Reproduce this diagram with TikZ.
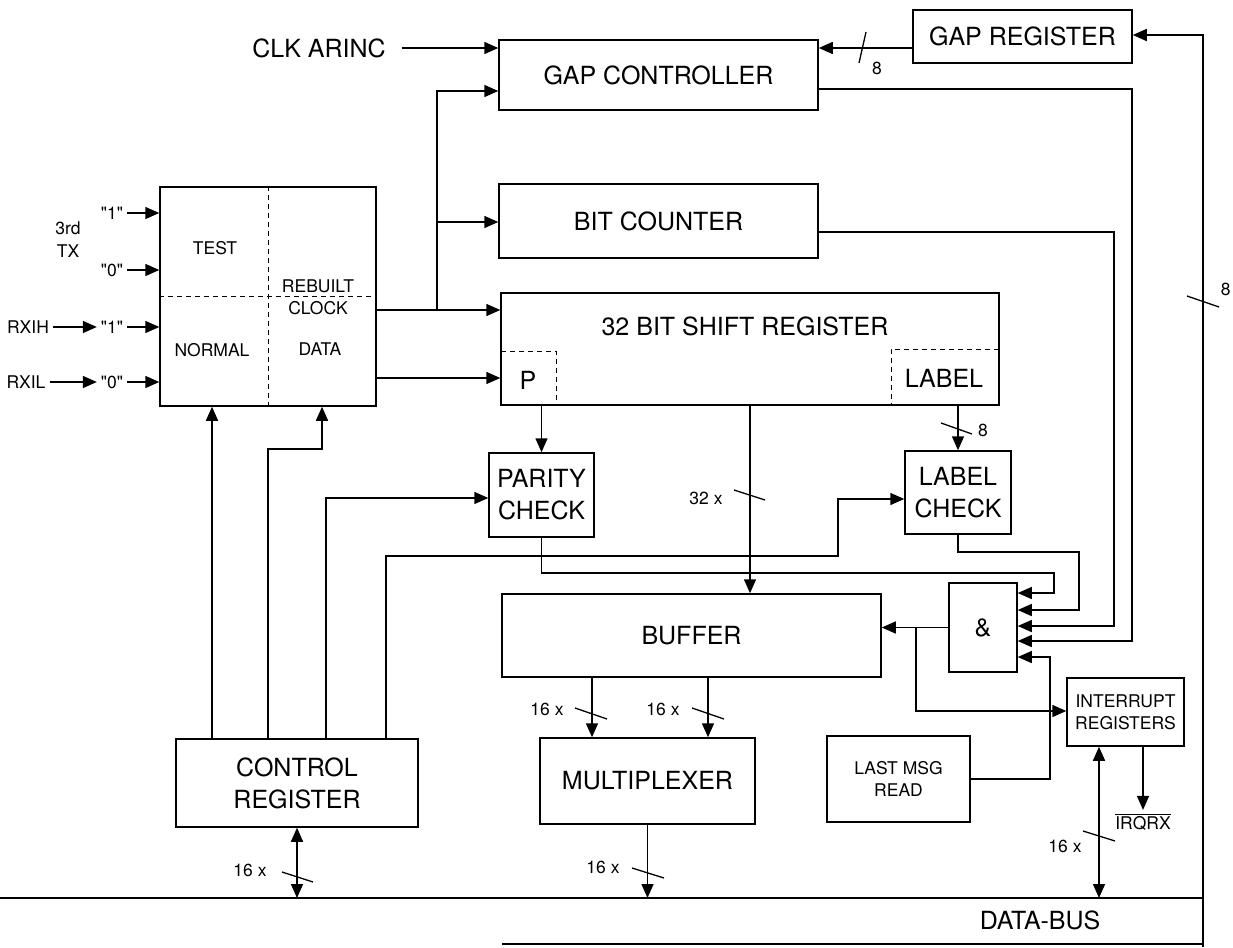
\documentclass[tikz,border=0pt]{standalone}
\usepackage{fontspec}
\setmainfont{TeX Gyre Heros}
\newfontfamily\qfont{TeX Gyre Heros}[Ligatures=TeXOff]
\usetikzlibrary{arrows.meta}
\begin{document}
\begin{tikzpicture}[x=1pt,y=-1pt,line width=1.5pt,
  box/.style={draw,line width=1.5pt,inner sep=0pt,align=center},
  big/.style={font=\fontsize{25}{32}\selectfont,align=center},
  small/.style={font=\fontsize{17.5}{22}\selectfont,align=center},
  arr/.style={-{Triangle[length=14pt,width=12pt]}},
  dbl/.style={{Triangle[length=14pt,width=12pt]}-{Triangle[length=14pt,width=12pt]}},
  dashln/.style={line width=0.8pt,dash pattern=on 5pt off 4pt},
  sl/.style={line width=1.3pt}]
\useasboundingbox (0,0) rectangle (1233,947);

% boxes
\node[box,big,minimum width=219pt,minimum height=53pt] (gr) at (1022.5,36.5) {GAP REGISTER};
\node[box,big,minimum width=319pt,minimum height=70pt] (gc) at (658.5,75) {GAP CONTROLLER};
\node[box,big,minimum width=319pt,minimum height=74pt] (bc) at (658.5,221) {BIT COUNTER};
\node[box,minimum width=498pt,minimum height=112pt] (sr) at (750,349) {};
\node[big] (srt) at (745,326) {32 BIT SHIFT REGISTER};
\node[big] (pt) at (528,380) {P};
\node[big] (lt) at (944,378) {LABEL};
\draw[dashln] (501,351) -| (556,405);
\draw[dashln] (999,349) -| (891,405);

\node[box,minimum width=216pt,minimum height=219pt] (mb) at (268,296.5) {};
\draw[dashln] (mb.north) -- (mb.south);
\draw[dashln] (mb.west) -- (mb.east);
\node[small] (test) at (215,248) {TEST};
\node[small] (norm) at (212,350) {NORMAL};
\node[small] (reb) at (318,297) {REBUILT\\CLOCK};
\node[small] (data) at (320,349) {DATA};

\node[box,big,minimum width=105pt,minimum height=84pt] (pc) at (541.5,495) {PARITY\\CHECK};
\node[box,big,minimum width=106pt,minimum height=83pt] (lc) at (958,492.5) {LABEL\\CHECK};
\node[box,big,minimum width=68pt,minimum height=89pt] (and) at (983,627.5) {\&};
\node[box,big,minimum width=379pt,minimum height=83pt] (buf) at (691.5,635.5) {BUFFER};
\node[box,small,minimum width=117pt,minimum height=68pt] (ir) at (1125.5,712) {INTERRUPT\\REGISTERS};
\node[box,small,minimum width=143pt,minimum height=86pt] (lm) at (898.5,779) {LAST MSG\\READ};
\node[box,big,minimum width=215pt,minimum height=86pt] (mux) at (647.5,781) {MULTIPLEXER};
\node[box,big,minimum width=242pt,minimum height=88pt] (cr) at (297,783) {CONTROL\\REGISTER};

\node[small] (irq) at (1143,822) {$\overline{\hbox{IRQRX}}$};
\node[big] (db) at (1040,920) {DATA-BUS};
\node[big] (clk) at (319,48) {CLK ARINC};

% data bus
\coordinate (busA) at (0,898);
\coordinate (busB) at (1203,898);
\coordinate (busC) at (502,944);
\coordinate (busD) at (1203,947);
\draw (busA) -- (busB);
\draw (busC) -- (1203,944);
\draw[arr] (busD) -- (1203,35) -- (gr.east |- 0,35);
\draw[sl] (1187,296) -- (1219,307);
\node[small,anchor=west,inner sep=0pt] (eight3) at (1220,289) {8};

% top
\draw[arr] ([xshift=12pt]clk.east) -- (gc.west |- 0,48);
\draw[arr] (gr.west |- 0,48) -- (gc.east |- 0,48);
\draw[sl] (859,63) -- (866,32);
\node[small] (eight1) at (877,68) {8};

% to AND gate
\draw[arr] (gc.east |- 0,89) -| (1132,641) -- (and.east |- 0,641);
\draw[arr] (bc.east |- 0,232) -| (1114,626) -- (and.east |- 0,626);
\draw[arr] (lc.south) |- (1079,552) |- (and.east |- 0,610);
\draw[arr] (pc.south) |- (1054,573) |- (and.east |- 0,593);
\draw[arr] (lm.east) -| (1050,657) -- (and.east |- 0,657);

% AND outputs
\draw[arr] (and.west) -- (buf.east |- and.west);
\coordinate (br) at (916,627.5);
\draw[arr] (br) |- (ir.west |- 0,711);

% interrupt registers
\draw[arr] (ir.south -| 1143,0) -- (irq.north);
\draw[dbl] (ir.south -| 1099,0) -- (busA -| 1099,0);
\draw[sl] (1083,831) -- (1115,841);
\node[small] (n16d) at (1065,846) {16 x};

% multiplexer to bus
\draw[arr] (mux.south) -- (busA -| mux.south);
\draw[sl] (632,868) -- (664,878);
\node[small] (n16c) at (603,867) {16 x};

% control register to bus
\draw[dbl] (cr.south) -- (busA -| cr.south);
\draw[sl] (282,872) -- (313,882);
\node[small] (n16a) at (250,870) {16 x};

% buffer to multiplexer
\draw[arr] (buf.south -| 592,0) -- (mux.north -| 592,0);
\draw[arr] (buf.south -| 708,0) -- (mux.north -| 708,0);
\draw[sl] (575,708) -- (607,719);
\draw[sl] (692,708) -- (724,719);
\node[small] (n16b1) at (547,709) {16 x};
\node[small] (n16b2) at (663,709) {16 x};

% shift register outputs
\draw[arr] (sr.south) -- (buf.north -| sr.south);
\draw[sl] (734,490) -- (765,500);
\node[small] (n32) at (706,498) {32 x};
\draw[arr] (pc.north |- sr.south) -- (pc.north);
\draw[arr] (lc.north |- sr.south) -- (lc.north);
\draw[sl] (941,423) -- (972,434);
\node[small] (eight2) at (983,430) {8};

% mode box outputs
\draw[arr] (mb.east |- 0,310) -- (sr.west |- 0,310);
\coordinate (vj) at (437,310);
\draw[arr] (vj) |- (gc.west |- 0,91);
\draw[arr] (437,222) -- (bc.west |- 0,222);
\draw[arr] (mb.east |- 0,378) -- (sr.west |- 0,378);

% control register outputs
\draw[arr] (cr.north -| 212,0) -- (mb.south -| 212,0);
\draw[arr] (cr.north -| 268,0) |- (322,449) -- (mb.south -| 322,0);
\draw[arr] (cr.north -| 326,0) |- (pc.west |- 0,498);
\draw[arr] (cr.north -| 386,0) |- (838,556) |- (lc.west |- 0,499);

% inputs
\node[small] (i1) at (112,213) {\qfont "1"};
\node[small] (i0) at (112,270) {\qfont "0"};
\node[small] (j1) at (112,327) {\qfont "1"};
\node[small] (j0) at (112,382) {\qfont "0"};
\node[small] (rd) at (68,228) {3rd};
\node[small] (tx) at (68,251) {TX};
\node[small] (rxih) at (28,327) {RXIH};
\node[small] (rxil) at (26,382) {RXIL};
\draw[arr] (i1.east) -- (mb.west |- i1.east);
\draw[arr] (i0.east) -- (mb.west |- i0.east);
\draw[arr] (j1.east) -- (mb.west |- j1.east);
\draw[arr] (j0.east) -- (mb.west |- j0.east);
\draw[arr] (rxih.east) -- (j1.west);
\draw[arr] (rxil.east) -- (j0.west);
\end{tikzpicture}
\end{document}
